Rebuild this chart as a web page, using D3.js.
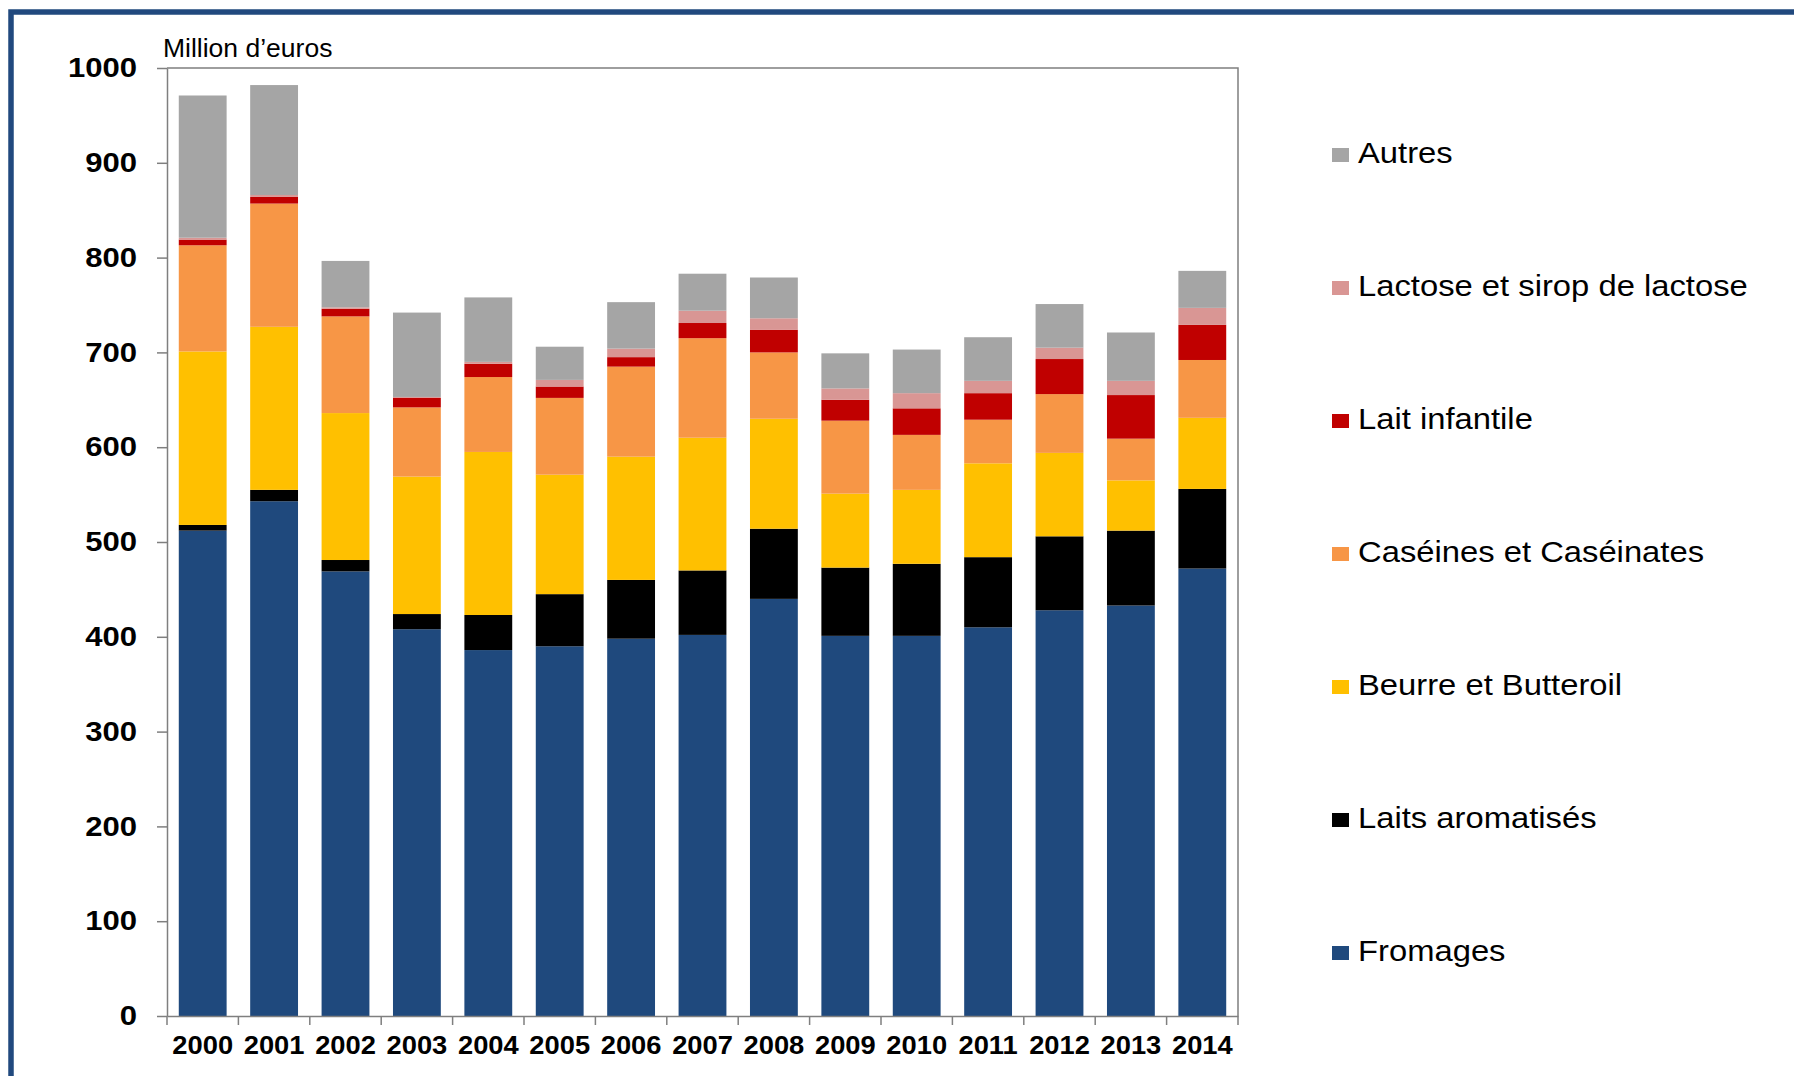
<!DOCTYPE html>
<html>
<head>
<meta charset="utf-8">
<script src="https://cdn.jsdelivr.net/npm/d3@7"></script>
<style>
  body { margin: 0; background: #fff; }
  text { font-family: "Liberation Sans", Arial, sans-serif; fill: #000; }
</style>
</head>
<body>
<div class="chart"></div>
<script>
//----Data----
const years = ["2000","2001","2002","2003","2004","2005","2006","2007","2008","2009","2010","2011","2012","2013","2014"];

const fromages    = [512, 543, 469, 408, 386, 390, 398, 402, 440, 401, 401, 410, 428, 433, 472];
const laitsArom   = [6, 12, 12, 16, 37, 55, 62, 68, 74, 72, 76, 74, 78, 79, 84];
const beurre      = [183, 172, 155, 145, 172, 126, 130, 140, 116, 78, 78, 99, 88, 53, 75];
const caseines    = [112, 130, 102, 73, 79, 81, 95, 105, 70, 77, 58, 46, 62, 44, 61];
const laitInfant  = [6, 7, 8, 10, 14, 12, 10, 16, 24, 22, 28, 28, 37, 46, 37];
const lactose     = [2, 2, 1.5, 1, 2, 7, 9, 13, 12, 12, 16, 13, 12, 15, 18];
const autres      = [150, 116, 49, 89, 68, 35, 49, 39, 43, 37, 46, 46, 46, 51, 39];

const yTicks = [0, 100, 200, 300, 400, 500, 600, 700, 800, 900, 1000];

const seriesNames = ["Fromages", "Laits aromatisés", "Beurre et Butteroil", "Caséines et Caséinates",
                     "Lait infantile", "Lactose et sirop de lactose", "Autres"];
const seriesValues = [fromages, laitsArom, beurre, caseines, laitInfant, lactose, autres];
const colors = ["#1F497D", "#000000", "#FFC000", "#F79646", "#C00000", "#D99694", "#A5A5A5"];

//----Chart Initialization----
const W = 1794, H = 1076;
const plot = {left: 167, right: 1238, top: 68, bottom: 1016};

const svg = d3.select(".chart").append("svg")
    .attr("width", W)
    .attr("height", H);

// outer frame
svg.append("rect")
    .attr("x", 11).attr("y", 12)
    .attr("width", W + 20).attr("height", H + 20)
    .attr("fill", "none")
    .attr("stroke", "#21497E")
    .attr("stroke-width", 5.5);

const table = years.map((yr, i) => {
    const row = {year: yr};
    seriesNames.forEach((s, k) => row[s] = seriesValues[k][i]);
    return row;
});

const xScale = d3.scaleBand()
    .domain(years)
    .range([plot.left, plot.right])
    .paddingInner(0.33)
    .paddingOuter(0.165);

const yScale = d3.scaleLinear()
    .domain([0, 1000])
    .range([plot.bottom, plot.top]);

const color = d3.scaleOrdinal().domain(seriesNames).range(colors);

const stacked = d3.stack().keys(seriesNames)(table);

svg.append("g")
    .selectAll("g")
    .data(stacked)
    .join("g")
    .attr("fill", d => color(d.key))
    .selectAll("rect")
    .data(d => d)
    .join("rect")
    .attr("x", d => xScale(d.data.year))
    .attr("y", d => yScale(d[1]))
    .attr("width", xScale.bandwidth())
    .attr("height", d => yScale(d[0]) - yScale(d[1]));

// plot frame (top and right)
svg.append("path")
    .attr("d", `M${plot.left},${plot.top}H${plot.right}V${plot.bottom}`)
    .attr("fill", "none")
    .attr("stroke", "#7F7F7F")
    .attr("stroke-width", 1.5);

// y axis
const yAxis = svg.append("g")
    .attr("transform", `translate(${plot.left},0)`)
    .call(d3.axisLeft(yScale).tickValues(yTicks).tickSize(10).tickSizeOuter(0).tickFormat(d3.format("d")));
yAxis.select(".domain").attr("stroke", "#7F7F7F").attr("stroke-width", 1.5);
yAxis.selectAll(".tick line").attr("stroke", "#7F7F7F").attr("stroke-width", 1.5);
yAxis.selectAll(".tick text")
    .attr("x", 0)
    .attr("transform", "translate(-30,0) scale(1.15,1)")
    .style("font-size", "27px")
    .style("font-weight", "bold");

// x axis
const xAxis = svg.append("g")
    .attr("transform", `translate(0,${plot.bottom})`)
    .call(d3.axisBottom(xScale).tickSize(0).tickPadding(20).tickSizeOuter(0));
xAxis.select(".domain").attr("stroke", "#7F7F7F").attr("stroke-width", 1.5);
xAxis.selectAll(".tick text")
    .attr("transform", "scale(1.05,1)")
    .style("font-size", "26px")
    .style("font-weight", "bold");

// category boundary ticks
const bounds = d3.range(years.length + 1).map(i => plot.left + i * xScale.step());
svg.append("g")
    .selectAll("line")
    .data(bounds)
    .join("line")
    .attr("x1", d => d).attr("x2", d => d)
    .attr("y1", plot.bottom).attr("y2", plot.bottom + 9)
    .attr("stroke", "#7F7F7F")
    .attr("stroke-width", 1.5);

// unit label
svg.append("text")
    .attr("x", 163)
    .attr("y", 57)
    .style("font-size", "26.5px")
    .text("Million d\u2019euros");

// legend
const legend = svg.append("g")
    .selectAll("g")
    .data(seriesNames.slice().reverse())
    .join("g")
    .attr("transform", (d, i) => `translate(1332,${163 + i * 133})`);

legend.append("rect")
    .attr("x", 0).attr("y", -15)
    .attr("width", 17).attr("height", 14)
    .attr("fill", d => color(d));

legend.append("text")
    .attr("transform", "translate(26,0) scale(1.13,1)")
    .style("font-size", "29px")
    .text(d => d);
</script>
</body>
</html>
